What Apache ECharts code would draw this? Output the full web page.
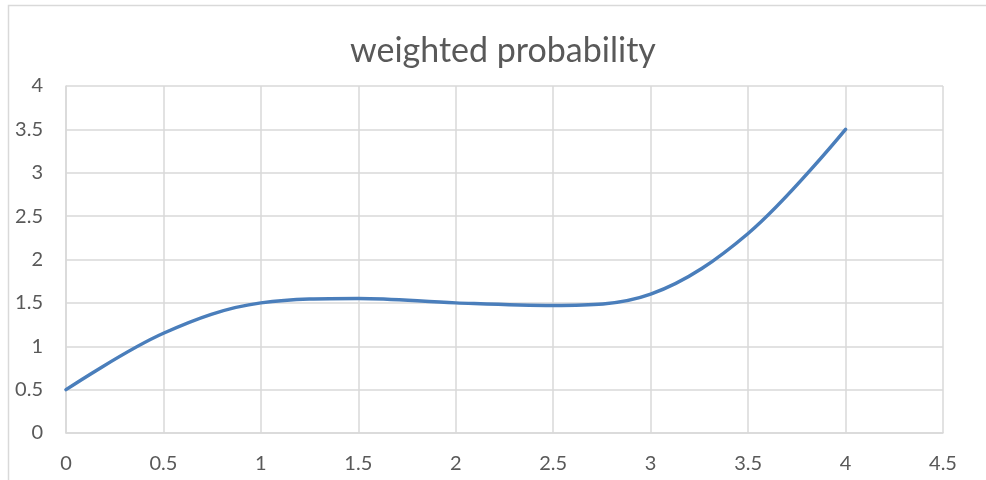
<!DOCTYPE html>
<html>
<head>
<meta charset="utf-8">
<script src="https://cdn.jsdelivr.net/npm/echarts@6/dist/echarts.min.js"></script>
<style>
  html, body { margin: 0; padding: 0; background: #fff; }
  #chart { width: 986px; height: 480px; }
</style>
</head>
<body>
<div id="chart"></div>
<script>
// x positions and weighted probability values
const xValues = [0, 0.5, 1, 1.5, 2, 2.5, 3, 3.5, 4];
const yValues = [0.5, 1.15, 1.5, 1.55, 1.5, 1.47, 1.6, 2.3, 3.5];
const chartTitle = 'weighted probability';

const points = xValues.map((x, i) => [x, yValues[i]]);
const font = 'Lato, "Open Sans", sans-serif';
const gridColor = '#d9d9d9';
const textColor = '#595959';

const chart = echarts.init(document.getElementById('chart'), null, { renderer: 'canvas' });
chart.setOption({
  animation: false,
  backgroundColor: '#ffffff',
  // chart-area frame (left and top edges visible)
  graphic: [{
    type: 'rect',
    shape: { x: 8.5, y: 5.5, width: 1200, height: 1000 },
    style: { fill: 'none', stroke: gridColor, lineWidth: 1.5 },
    silent: true
  }],
  title: {
    text: chartTitle,
    left: 345,
    top: 29,
    textStyle: { fontFamily: font, fontSize: 34, fontWeight: 'normal', color: textColor }
  },
  grid: { left: 66, right: 43, top: 86, bottom: 47, containLabel: false },
  xAxis: {
    type: 'value',
    min: 0, max: 4.5, interval: 0.5,
    axisLine: { show: true, lineStyle: { color: gridColor, width: 1.5 } },
    axisTick: { show: false },
    splitLine: { show: true, lineStyle: { color: gridColor, width: 1.5 } },
    axisLabel: { fontFamily: font, fontSize: 20, color: textColor, margin: 21 }
  },
  yAxis: {
    type: 'value',
    min: 0, max: 4, interval: 0.5,
    axisLine: { show: true, lineStyle: { color: gridColor, width: 1.5 } },
    axisTick: { show: false },
    splitLine: { show: true, lineStyle: { color: gridColor, width: 1.5 } },
    axisLabel: { fontFamily: font, fontSize: 20, color: textColor, margin: 23 }
  },
  series: [{
    type: 'line',
    data: points,
    smooth: 0.35,
    showSymbol: false,
    lineStyle: { color: '#4a7ebb', width: 3.5, cap: 'round' }
  }]
});
</script>
</body>
</html>
